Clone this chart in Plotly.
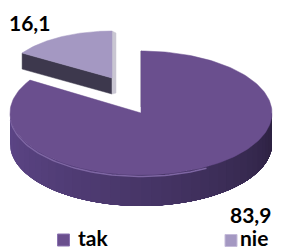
import numpy as np
import plotly.graph_objects as go

labels = ["tak", "nie"]
values = [83.9, 16.1]
top_colors = ["#6a4f8e", "#a498c2"]

W, H = 282, 250
fig = go.Figure()

def arc(cx, cy, rx, ry, a0, a1, n=80, dy=0):
    t = np.radians(np.linspace(a0, a1, n))
    return list(cx + rx * np.sin(t)), list(cy - ry * np.cos(t) + dy)

def poly(xs, ys, color, lw=0.5):
    fig.add_trace(go.Scatter(x=xs + [xs[0]], y=ys + [ys[0]], mode="lines", fill="toself",
                             fillcolor=color, line=dict(color=color, width=lw),
                             hoverinfo="skip", showlegend=False))

def mix(c1, c2, f):
    a = [int(c1[i:i + 2], 16) for i in (1, 3, 5)]
    b = [int(c2[i:i + 2], 16) for i in (1, 3, 5)]
    return "#%02x%02x%02x" % tuple(int(round(a[k] + (b[k] - a[k]) * f)) for k in range(3))

total = sum(values)
ang_big = values[0] / total * 360.0

# ---- small exploded slice "nie" (behind) ----
scx, scy, srx, sry, sd = 112, 78, 106, 47, 16
s0, s1 = ang_big, 360.0
tx = scx + srx * np.sin(np.radians(s0)); ty = scy - sry * np.cos(np.radians(s0))
poly([scx, tx, tx, scx], [scy, ty, ty + sd, scy + sd], "#3d384d")
poly([scx, scx, scx + 4, scx + 4], [scy - sry, scy + sd, scy + sd - 1, scy - sry + 2], "#c9c6d2")
ax_, ay_ = arc(scx, scy, srx, sry, s0, s1)
poly([scx] + ax_, [scy] + ay_, top_colors[1])

# ---- big slice "tak" ----
bcx, bcy, brx, bry, bd = 141, 113, 131, 62, 31
nseg = 40
edges = np.linspace(270, 90, nseg + 1)
for i in range(nseg):
    a0 = edges[i]
    xt, yt = arc(bcx, bcy, brx, bry, a0, 90, n=60)
    xb, yb = arc(bcx, bcy, brx, bry, 90, a0, n=60, dy=bd)
    f = i / (nseg - 1)
    col = mix("#5c4586", "#2c2140", f ** 1.2)
    poly(xt + xb, yt + yb, col, lw=0)
xr, yr = arc(bcx, bcy, brx, bry, 265, 150, n=60, dy=1.5)
fig.add_trace(go.Scatter(x=xr, y=yr, mode="lines", line=dict(color="#7e66a3", width=1.5),
                         hoverinfo="skip", showlegend=False))
poly([bcx, bcx, bcx + 2.5, bcx + 2.5], [bcy - bry, bcy - 6, bcy - 6, bcy - bry + 1], "#3a3050")
ax_, ay_ = arc(bcx, bcy, brx, bry, 0, ang_big, n=200)
poly([bcx] + ax_, [bcy] + ay_, top_colors[0])

# ---- data labels ----
fmt = lambda v: ("%.1f" % v).replace(".", ",")
lab_pos = [(250, 214), (29, 22)]
for v, (x, y) in zip(values, lab_pos):
    fig.add_annotation(x=x, y=y, text="<b>%s</b>" % fmt(v), showarrow=False,
                       font=dict(family="Lato", size=21, color="#000000"))

# ---- legend ----
leg_pos = [(63.5, 240), (231, 240.5)]
text_x = [76, 238]
marker_lines = ["#8a72b0", "#c4bad9"]
for lab, c, ml, (x, y), t_x in zip(labels, top_colors, marker_lines, leg_pos, text_x):
    fig.add_trace(go.Scatter(x=[x], y=[y], mode="markers",
                             marker=dict(symbol="square", size=12, color=c, line=dict(color=ml, width=1)),
                             hoverinfo="skip", showlegend=False))
    fig.add_annotation(x=t_x, y=237, text="<b>%s</b>" % lab, showarrow=False, xanchor="left",
                       font=dict(family="Lato", size=21, color="#000000"))

fig.update_layout(width=W, height=H, margin=dict(l=0, r=0, t=0, b=0),
                  paper_bgcolor="white", plot_bgcolor="white",
                  xaxis=dict(range=[0, W], visible=False, fixedrange=True),
                  yaxis=dict(range=[H, 0], visible=False, fixedrange=True),
                  showlegend=False)
fig.write_html("out.html", config={"displayModeBar": False},
               post_script="document.body.style.margin='0';document.body.style.overflow='hidden';")
